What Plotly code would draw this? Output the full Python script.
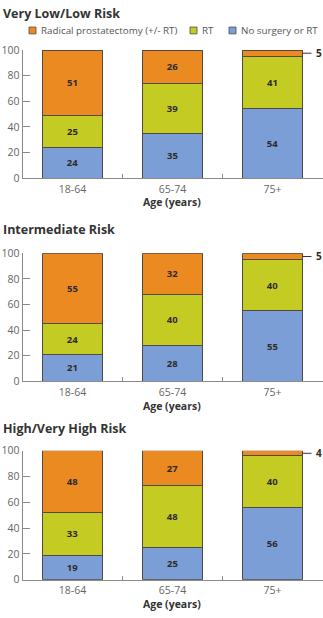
import plotly.graph_objects as go

# Treatment distribution (%) by age group and risk category
age_groups = ["18-64", "65-74", "75+"]
panel_titles = ["Very Low/Low Risk", "Intermediate Risk", "High/Very High Risk"]
series_names = ["Radical prostatectomy (+/- RT)", "RT", "No surgery or RT"]

low_surgery = [51, 26, 5]
low_rt = [25, 39, 41]
low_none = [24, 35, 54]

int_surgery = [55, 32, 5]
int_rt = [24, 40, 40]
int_none = [21, 28, 55]

high_surgery = [48, 27, 4]
high_rt = [33, 48, 40]
high_none = [19, 25, 56]

y_ticks = [0, 20, 40, 60, 80, 100]

panels = [
    (low_surgery, low_rt, low_none),
    (int_surgery, int_rt, int_none),
    (high_surgery, high_rt, high_none),
]

W, H = 323, 618
C_ORANGE = "#EC8A22"
C_GREEN = "#C4CC24"
C_BLUE = "#7C9ED6"
EDGE = "#4f4a45"
AXIS = "#8a8a8a"
TICKFONT = dict(family="Open Sans", size=10.5, color="#666666")
LABELFONT = dict(family="Open Sans", size=9.5, color="#2e2a28")

# pixel layout of each panel: (y of 100, y of 0, title y, axis-title y)
panel_px = [(44, 175, 7, 200), (252, 383, 228, 408.5), (454, 586, 431, 611)]
x_left_px, x_right_px = 22.5, 322.5


def py(p):
    return 1 - p / H


def px(p):
    return p / W


fig = go.Figure()
annotations = []
shapes = []
layout_axes = {}

for i, ((surg, rt, none), (top, bot, ty, aty)) in enumerate(zip(panels, panel_px)):
    n = i + 1
    xa = "x" if n == 1 else f"x{n}"
    ya = "y" if n == 1 else f"y{n}"
    stack = [(none, C_BLUE, series_names[2]), (rt, C_GREEN, series_names[1]), (surg, C_ORANGE, series_names[0])]
    for vals, col, name in stack:
        fig.add_trace(go.Bar(
            x=age_groups, y=vals, name=name, xaxis=xa, yaxis=ya,
            marker=dict(color=col, line=dict(color=EDGE, width=1)),
            width=0.6,
            text=[str(v) if v >= 10 else "" for v in vals],
            texttemplate="<b>%{text}</b>",
            textposition="inside", insidetextanchor="middle",
            textfont=LABELFONT, textangle=0,
            showlegend=False, hoverinfo="skip",
        ))
    # callouts for the thin top segments
    for j, v in enumerate(surg):
        if v < 10:
            yc = 100 - v / 2
            shapes.append(dict(type="line", xref=xa, yref=ya, x0=j + 0.3, x1=j + 0.39,
                               y0=yc, y1=yc, line=dict(color="#333333", width=1)))
            annotations.append(dict(xref=xa, yref=ya, x=j + 0.41, y=yc, text=f"<b>{v}</b>",
                                    showarrow=False, xanchor="left", yanchor="middle",
                                    font=dict(family="Open Sans", size=10, color="#2e2a28")))
    # panel title
    annotations.append(dict(xref="paper", yref="paper", x=px(1), y=py(ty), text=f"<b>{panel_titles[i]}</b>",
                            showarrow=False, xanchor="left", yanchor="middle",
                            font=dict(family="Open Sans", size=12.5, color="#333333")))
    # axis title
    annotations.append(dict(xref="paper", yref="paper", x=px(172.5), y=py(aty), text="<b>Age (years)</b>",
                            showarrow=False, xanchor="center", yanchor="middle",
                            font=dict(family="Open Sans", size=10.5, color="#333333")))
    layout_axes["xaxis" if n == 1 else f"xaxis{n}"] = dict(
        domain=[px(x_left_px), px(x_right_px)], anchor=ya, type="category",
        range=[-0.5, 2.5], showline=True, linecolor=AXIS, linewidth=1,
        ticks="inside", ticklen=4, tickcolor=AXIS, tickson="boundaries",
        ticklabelstandoff=1,
        tickfont=TICKFONT, showgrid=False, zeroline=False, fixedrange=True,
    )
    layout_axes["yaxis" if n == 1 else f"yaxis{n}"] = dict(
        domain=[py(bot), py(top)], anchor=xa, range=[0, 100],
        tickvals=y_ticks, ticktext=[str(t) for t in y_ticks],
        showline=True, linecolor=AXIS, linewidth=1,
        ticks="inside", ticklen=7, tickcolor=AXIS,
        tickfont=TICKFONT, showgrid=False, zeroline=False, fixedrange=True,
    )

# legend row
legend_y = 24
legend_items = [(C_ORANGE, series_names[0], 29), (C_GREEN, series_names[1], 190), (C_BLUE, series_names[2], 229)]
for col, name, x0 in legend_items:
    shapes.append(dict(type="rect", xref="paper", yref="paper",
                       x0=px(x0), x1=px(x0 + 7), y0=py(legend_y + 3.5), y1=py(legend_y - 3.5),
                       fillcolor=col, line=dict(color=EDGE, width=0.8)))
    annotations.append(dict(xref="paper", yref="paper", x=px(x0 + 10), y=py(legend_y), text=name,
                            showarrow=False, xanchor="left", yanchor="middle",
                            font=dict(family="Open Sans", size=9.8, color="#555555")))

fig.update_layout(
    width=W, height=H, margin=dict(l=0, r=0, t=0, b=0),
    paper_bgcolor="white", plot_bgcolor="white",
    barmode="stack", bargap=0.4,
    annotations=annotations, shapes=shapes,
    **layout_axes,
)

fig.write_html("out.html")
